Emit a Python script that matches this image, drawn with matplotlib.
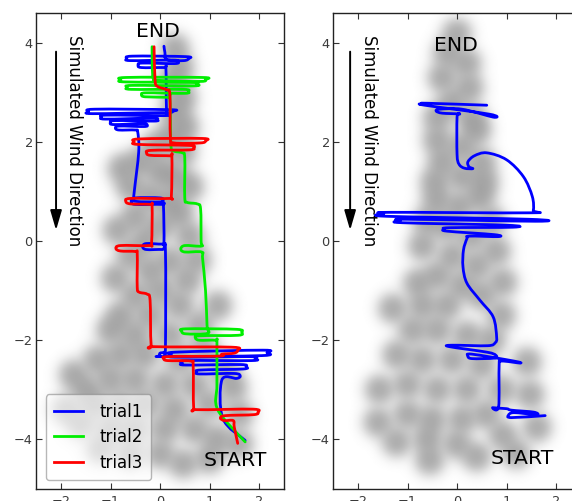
import numpy as np
import matplotlib
matplotlib.use("Agg")
import matplotlib.pyplot as plt
from matplotlib.path import Path
from matplotlib.patches import PathPatch
from matplotlib.lines import Line2D

# ---------------- data ----------------
# blurred odour blobs (centres) for each panel
left_blob_x = [0.3, 0.4, 0.25, 0.45, 0.3, 0.5, 0.2, 0.45, -0.1, -0.4, -0.77, 0.0, 0.3, 0.6, -0.6, -0.2,
               0.2, -0.87, -0.5, 0.4, 0.0, -0.3, 0.6, -0.6, 0.75, 0.2, -0.2, -0.9, 0.55, 0.0, -0.5,
               1.17, 0.4, -0.8, -0.2, 0.8, -1.0, -0.5, 0.2, 0.9, -1.27, -0.8, -0.3, 0.4, 1.3, -1.5,
               -1.0, -0.5, 0.1, 0.7, 1.48, -1.3, -0.8, -0.3, 0.3, 1.0, 1.6, -1.6, -1.0, -0.5, 0.1,
               0.7, 1.15, -1.2, -0.6, 0.0, 0.47, 1.0, 1.6, -1.75, -1.9]
left_blob_y = [3.9, 3.5, 3.2, 2.9, 2.6, 2.3, 2.1, 1.8, 1.9, 1.6, 1.47, 1.4, 1.3, 1.1, 1.1, 0.9,
               0.8, 0.22, 0.5, 0.56, 0.3, 0.0, 0.1, -0.3, -0.38, -0.4, -0.6, -0.75, -0.8, -1.0, -1.1,
               -1.3, -1.3, -1.5, -1.5, -1.7, -1.8, -1.9, -1.9, -2.2, -2.4, -2.3, -2.3, -2.4, -2.6, -3.0,
               -2.8, -2.8, -2.9, -2.9, -2.95, -3.3, -3.3, -3.3, -3.4, -3.3, -3.5, -3.7, -3.8, -3.8, -3.8,
               -3.8, -4.0, -4.2, -4.3, -4.3, -4.5, -4.4, -4.1, -2.7, -3.4]
right_blob_x = [0.0, -0.2, 0.2, -0.3, 0.25, -0.1, 0.3, -0.4, 0.4, -0.4, 0.1, -0.3, 0.5, 0.1, -0.45,
                0.55, -0.41, 0.47, 0.05, -0.6, 0.7, -0.2, 0.3, -0.7, 0.8, -0.1, 0.4, -0.8, 0.93, -0.4,
                0.1, 0.5, -1.3, -0.7, -0.2, 0.9, -0.9, -0.4, 0.2, 0.7, -1.22, -0.7, -0.1, 0.5, 1.42,
                -1.57, -1.0, -0.4, 0.2, 0.9, 1.48, -1.6, -1.0, -0.5, 0.1, 0.6, 1.62, -1.22, -0.6, 0.0,
                0.93, -0.55, 0.4, 1.2]
right_blob_y = [4.2, 3.8, 3.6, 3.3, 3.1, 2.8, 2.5, 2.5, 2.24, 2.04, 1.9, 1.6, 1.6, 1.3, 1.2,
                1.2, 0.83, 0.89, 0.7, 0.4, 0.4, 0.3, 0.1, -0.1, -0.2, -0.3, -0.5, -0.85, -0.83, -0.7,
                -0.9, -1.1, -1.36, -1.3, -1.3, -1.5, -1.8, -1.8, -1.9, -2.0, -2.3, -2.4, -2.4, -2.5, -2.44,
                -3.0, -2.9, -3.0, -3.0, -3.0, -3.1, -3.66, -3.5, -3.6, -3.6, -3.5, -3.76, -4.06, -4.0, -4.1,
                -3.92, -4.43, -4.36, -4.3]

# trajectories (x, y), START -> END
trial1 = [(1.72, -4.02), (1.27, -3.58), (1.25, -2.8),
          (1.55, -2.77), (1.62, -2.72), (1.5, -2.67), (0.8, -2.68), (0.74, -2.64), (0.82, -2.6),
          (1.68, -2.58), (1.74, -2.53), (1.62, -2.49), (0.52, -2.5), (0.45, -2.46), (0.54, -2.41),
          (1.85, -2.41), (1.92, -2.37), (1.8, -2.33), (0.3, -2.34), (0.23, -2.29), (0.32, -2.24),
          (2.08, -2.2), (2.16, -2.25), (2.05, -2.31), (0.1, -2.33), (0.0, -2.31), (0.0, -2.26),
          (0.08, -2.24), (0.11, -2.15), (0.11, -0.2),
          (0.05, -0.17), (-0.28, -0.17), (-0.35, -0.11), (-0.28, -0.05), (0.04, -0.06), (0.08, -0.02),
          (0.07, 0.7), (0.04, 0.74), (-0.5, 0.74), (-0.58, 0.8), (-0.5, 0.87), (0.0, 0.87), (0.06, 0.82),
          (0.0, 0.79), (-0.48, 0.8), (-0.53, 0.86), (-0.52, 1.0), (-0.43, 1.8), (-0.45, 2.2),
          (-0.5, 2.24), (-0.83, 2.24), (-0.9, 2.28), (-0.82, 2.32), (-0.32, 2.31), (-0.26, 2.34),
          (-0.35, 2.37), (-0.93, 2.35), (-1.0, 2.39), (-0.9, 2.43), (-0.12, 2.42), (-0.06, 2.45),
          (-0.15, 2.48), (-1.1, 2.46), (-1.18, 2.5), (-1.08, 2.54), (0.08, 2.53), (0.14, 2.56),
          (0.04, 2.59), (-1.36, 2.57), (-1.44, 2.61), (-1.32, 2.66), (0.2, 2.65), (0.27, 2.62),
          (0.16, 2.58), (0.13, 2.7), (0.12, 3.48),
          (0.08, 3.5), (-0.38, 3.5), (-0.44, 3.55), (-0.36, 3.59), (0.3, 3.58), (0.36, 3.62),
          (0.26, 3.65), (-0.6, 3.64), (-0.67, 3.68), (-0.56, 3.73), (0.52, 3.72), (0.58, 3.68),
          (0.48, 3.64), (0.14, 3.66), (0.1, 3.8), (0.08, 3.93)]

trial2 = [(1.72, -4.05), (1.17, -3.41), (1.15, -2.9), (1.15, -2.05),
          (1.12, -2.0), (0.8, -2.0), (0.72, -1.96), (0.8, -1.91), (1.58, -1.9), (1.65, -1.84),
          (1.55, -1.78), (0.52, -1.77), (0.44, -1.82), (0.52, -1.87), (0.96, -1.86), (0.95, -1.7),
          (0.92, -1.0), (0.86, -0.35), (0.84, -0.22), (0.5, -0.22), (0.42, -0.16), (0.5, -0.09),
          (0.84, -0.1), (0.83, 0.0), (0.82, 0.65), (0.75, 0.75), (0.55, 0.78), (0.5, 0.88),
          (0.5, 1.68), (0.45, 1.78), (0.27, 1.82), (0.22, 1.95), (0.2, 2.88),
          (0.15, 2.9), (-0.3, 2.91), (-0.37, 2.95), (-0.28, 2.99), (0.5, 2.98), (0.57, 3.02),
          (0.47, 3.06), (-0.58, 3.06), (-0.66, 3.1), (-0.56, 3.14), (0.67, 3.13), (0.74, 3.17),
          (0.63, 3.2), (-0.7, 3.21), (-0.79, 3.25), (-0.68, 3.3), (0.85, 3.3), (0.92, 3.26),
          (0.82, 3.22), (0.0, 3.24), (-0.14, 3.3), (-0.16, 3.92)]

trial3 = [(1.57, -4.08), (1.5, -3.75), (1.48, -3.62), (1.3, -3.62), (1.22, -3.57), (1.32, -3.52),
          (1.9, -3.5), (1.98, -3.45), (1.88, -3.39), (0.75, -3.4), (0.68, -3.35), (0.67, -2.52),
          (0.62, -2.42), (0.15, -2.41), (0.08, -2.37), (0.17, -2.33), (1.2, -2.32), (1.25, -2.28),
          (1.5, -2.26), (1.57, -2.2), (1.45, -2.14), (-0.1, -2.13), (-0.18, -2.08), (-0.2, -1.2),
          (-0.26, -1.07), (-0.42, -1.03), (-0.46, -0.93), (-0.46, -0.26),
          (-0.5, -0.21), (-0.8, -0.2), (-0.89, -0.15), (-0.8, -0.09), (-0.22, -0.09), (-0.17, -0.03),
          (-0.16, 0.7), (-0.2, 0.74), (-0.6, 0.75), (-0.69, 0.8), (-0.6, 0.86), (0.18, 0.86),
          (0.23, 0.92), (0.24, 1.7),
          (0.2, 1.72), (-0.2, 1.73), (-0.27, 1.78), (-0.18, 1.83), (0.6, 1.84), (0.68, 1.89),
          (0.58, 1.93), (-0.45, 1.95), (-0.52, 2.0), (-0.42, 2.06), (0.85, 2.07), (0.92, 2.02),
          (0.82, 1.98), (0.28, 1.98), (0.21, 2.1), (0.2, 2.95), (0.14, 3.05), (-0.05, 3.12),
          (-0.1, 3.25), (-0.12, 3.92)]

right_trial = [(1.78, -3.52), (1.1, -3.56), (1.04, -3.51), (1.15, -3.46), (1.6, -3.5), (1.55, -3.45),
               (1.1, -3.41), (1.0, -3.38), (0.72, -3.36), (0.84, -3.34), (0.85, -2.5), (0.9, -2.42),
               (1.27, -2.46), (1.15, -2.42), (0.3, -2.28), (0.22, -2.32), (0.3, -2.37), (0.75, -2.36),
               (0.78, -2.3), (0.6, -2.24), (-0.15, -2.13), (-0.1, -2.1), (0.62, -2.11), (0.77, -2.05),
               (0.8, -1.94), (0.73, -1.53), (0.46, -1.19), (0.2, -0.85), (0.12, -0.52), (0.13, -0.18),
               (0.2, 0.05), (0.25, 0.1), (0.83, 0.09), (0.75, 0.13), (-0.2, 0.2), (-0.25, 0.24),
               (-0.15, 0.27), (1.13, 0.28), (1.0, 0.32), (-1.1, 0.37), (-1.15, 0.41), (-1.0, 0.44),
               (1.58, 0.4), (1.45, 0.44), (-1.42, 0.5), (-1.48, 0.55), (-1.35, 0.58), (1.45, 0.57),
               (1.54, 0.62), (1.52, 0.9), (1.34, 1.3), (1.0, 1.64), (0.6, 1.78), (0.35, 1.72),
               (0.22, 1.6), (0.24, 1.5), (0.32, 1.46), (0.15, 1.47), (0.04, 1.55), (0.0, 1.75),
               (0.0, 2.5), (0.04, 2.56), (-0.3, 2.58), (-0.42, 2.62), (-0.35, 2.66), (0.1, 2.66),
               (0.73, 2.5), (0.65, 2.56), (-0.65, 2.74), (-0.7, 2.77), (-0.6, 2.78), (0.6, 2.74)]

trial_labels = ["trial1", "trial2", "trial3"]
trial_colors = ["#0000ff", "#00ee00", "#ff0000"]

XLIM = (-2.5, 2.5)
YLIM = (-5.0, 4.6)
XTICKS = [-2, -1, 0, 1, 2]
YTICKS = [-4, -2, 0, 2, 4]

# ---------------- figure ----------------
W, H = 572, 501
fig = plt.figure(figsize=(W / 100, H / 100), dpi=100)
fig.patch.set_facecolor("white")
ax1 = fig.add_axes([36.25 / W, 12 / H, 247.5 / W, 476 / H])
ax2 = fig.add_axes([333.3 / W, 12 / H, 247.5 / W, 476 / H])


def blob_image(ax, bx, by):
    gx = np.linspace(XLIM[0], XLIM[1], 260)
    gy = np.linspace(YLIM[0], YLIM[1], 500)
    X, Y = np.meshgrid(gx, gy)
    s = np.zeros_like(X)
    sig = 0.19
    for x0, y0 in zip(bx, by):
        s += np.exp(-((X - x0) ** 2 + (Y - y0) ** 2) / (2 * sig ** 2))
    v = 1 - np.exp(-1.5 * s)
    img = 1 - 0.4 * v
    ax.imshow(img, extent=(XLIM[0], XLIM[1], YLIM[0], YLIM[1]), origin="lower",
              cmap="gray", vmin=0, vmax=1, aspect="auto", interpolation="bilinear", zorder=0)


def smooth_track(ax, pts, color, lw):
    # cubic Bezier path passing through every typed point (Catmull-Rom tangents)
    P = [tuple(p) for p in pts]
    n = len(P)
    verts = [P[0]]
    codes = [Path.MOVETO]
    for i in range(n - 1):
        p0 = P[i - 1] if i > 0 else P[i]
        p1 = P[i]
        p2 = P[i + 1]
        p3 = P[i + 2] if i + 2 < n else P[i + 1]
        c1 = (p1[0] + (p2[0] - p0[0]) / 6, p1[1] + (p2[1] - p0[1]) / 6)
        c2 = (p2[0] - (p3[0] - p1[0]) / 6, p2[1] - (p3[1] - p1[1]) / 6)
        verts += [c1, c2, p2]
        codes += [Path.CURVE4] * 3
    patch = PathPatch(Path(verts, codes), facecolor="none", edgecolor=color, lw=lw,
                      capstyle="round", joinstyle="round", zorder=3)
    ax.add_patch(patch)


def style(ax):
    ax.set_xlim(*XLIM)
    ax.set_ylim(*YLIM)
    ax.set_xticks(XTICKS)
    ax.set_yticks(YTICKS)
    ax.tick_params(direction="in", top=True, right=True, length=4, width=0.8,
                   labelsize=9.3, labelcolor="#3a3a3a", color="#333333")
    ax.tick_params(axis="y", pad=2.5)
    ax.tick_params(axis="x", pad=4)
    for sp in ax.spines.values():
        sp.set_color("#222222")
        sp.set_linewidth(1.0)


def wind(ax, ax_x, tx_x):
    ax.annotate("", xy=(ax_x, 0.22), xytext=(ax_x, 3.82),
                arrowprops=dict(arrowstyle="-|>,head_length=1.2,head_width=0.35",
                                color="black", lw=1.4, mutation_scale=10,
                                shrinkA=0, shrinkB=0))
    ax.text(tx_x, 4.16, "Simulated Wind Direction", rotation=-90, ha="center", va="top",
            fontsize=12, color="black")


LW = 2.0
# left panel
blob_image(ax1, left_blob_x, left_blob_y)
handles = []
for tr, lab, col in zip([trial1, trial2, trial3], trial_labels, trial_colors):
    smooth_track(ax1, tr, col, LW)
    handles.append(Line2D([], [], color=col, lw=LW, label=lab))
style(ax1)
wind(ax1, -2.1, -1.74)
ax1.text(-0.04, 4.22, "END", ha="center", va="center", fontsize=14.7)
ax1.text(1.52, -4.42, "START", ha="center", va="center", fontsize=14.7)
leg = ax1.legend(handles=handles, loc="lower left", bbox_to_anchor=(0.039, 0.019), borderaxespad=0,
                 fontsize=12, framealpha=0.6, fancybox=True, edgecolor="#888888",
                 handlelength=1.7, handletextpad=1.0, labelspacing=0.45, borderpad=0.5)
leg.get_frame().set_linewidth(1.0)

# right panel
blob_image(ax2, right_blob_x, right_blob_y)
smooth_track(ax2, right_trial, "#0000ff", LW)
style(ax2)
wind(ax2, -2.16, -1.78)
ax2.text(-0.03, 3.94, "END", ha="center", va="center", fontsize=14.7)
ax2.text(1.32, -4.38, "START", ha="center", va="center", fontsize=14.7)

fig.savefig("out.png", dpi=100)
